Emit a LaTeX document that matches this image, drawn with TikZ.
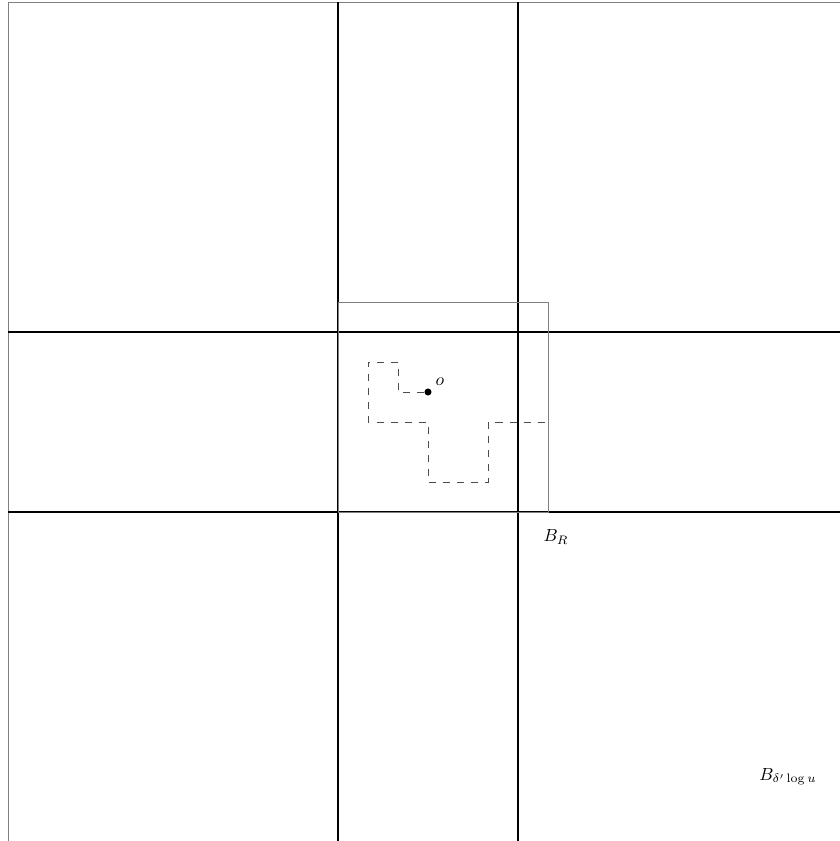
\documentclass[tikz,border=0pt]{standalone}
\usetikzlibrary{positioning,calc}
\begin{document}
\begin{tikzpicture}[
    x=0.6cm, y=0.6cm,
    gridline/.style={line width=1pt, black},
    boxline/.style={gray, line width=0.5pt},
    walk/.style={dash pattern=on 4pt off 4pt, black!70, line width=0.5pt},
    origin/.style={circle, fill=black, inner sep=0pt, minimum size=4pt}
]
\clip (-14.27,-14.97) rectangle (13.73,13.07);

% Outer box
\draw[boxline] (-14,-16) rectangle (15,13);

% Grid lines
\foreach \x in {-3,3} \draw[gridline] (\x,-16) -- (\x,13);
\foreach \y in {-4,2} \draw[gridline] (-14,\y) -- (15,\y);

% Box B_R
\draw[boxline] (-3,-4) rectangle (4,3);

% Path from o
\node[origin] (o) at (0,0) {};
\draw[walk] (o) -- (-1,0) -- (-1,1) -- (-2,1) -- (-2,-1) -- (0,-1) -- (0,-3) -- (2,-3) -- (2,-1) -- (4,-1);

% Labels
\node (olab) at (0.4,0.35) {$o$};
\node (bR) at (4.27,-4.83) {$B_R$};
\node (bbig) at (12,-12.83) {$B_{\delta'\log u}$};

\end{tikzpicture}
\end{document}
